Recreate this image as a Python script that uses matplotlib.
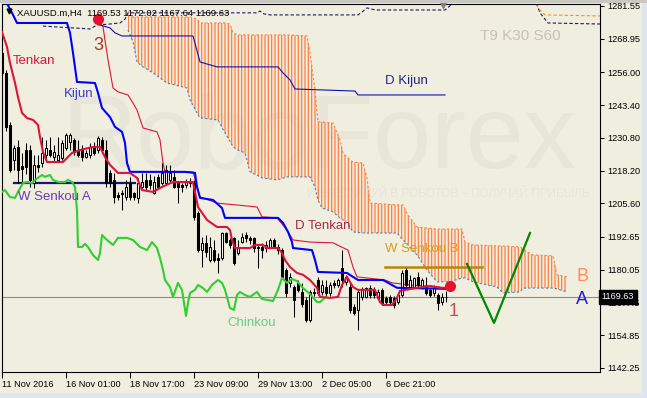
import numpy as np
import matplotlib
matplotlib.use('Agg')
import matplotlib.pyplot as plt
import matplotlib.transforms as mtransforms
from matplotlib.patches import Rectangle

plt.rcParams['font.family'] = ['Liberation Sans', 'DejaVu Sans']
plt.rcParams['hatch.linewidth'] = 0.9

# H4 candles, one per bar index
opens = [1263.3, 1255.6, 1235.8, 1222.3, 1227.4, 1219.8, 1226.0, 1226.1, 1213.3, 1220.5,
         1221.0, 1224.2, 1226.1, 1223.6, 1222.3, 1223.0, 1226.8, 1229.3, 1230.0, 1226.1,
         1226.1, 1223.6, 1224.2, 1227.4, 1226.1, 1230.0, 1226.1, 1217.2, 1214.6, 1208.8,
         1209.5, 1208.2, 1213.3, 1209.5, 1207.5, 1212.0, 1214.6, 1214.6, 1209.5, 1215.9,
         1213.3, 1213.3, 1214.6, 1215.9, 1213.3, 1212.7, 1212.7, 1213.9, 1213.3, 1201.8,
         1187.6, 1190.2, 1183.8, 1187.6, 1184.4, 1184.4, 1194.0, 1191.5, 1192.1, 1186.4,
         1190.9, 1193.4, 1192.1, 1192.1, 1188.9, 1188.9, 1188.3, 1188.9, 1191.5, 1188.9,
         1187.6, 1180.0, 1174.8, 1173.5, 1175.0, 1171.5, 1168.4, 1160.7, 1171.6, 1176.1,
         1171.6, 1173.5, 1171.0, 1174.8, 1174.2, 1180.6, 1175.5, 1173.5, 1165.9, 1164.6,
         1169.7, 1169.7, 1172.9, 1172.3, 1169.0, 1172.3, 1169.0, 1169.7, 1169.0, 1167.8,
         1170.3, 1180.0, 1173.5, 1173.5, 1177.4, 1173.5, 1173.5, 1172.3, 1171.0, 1170.3,
         1167.8, 1169.53]
highs = [1268.5, 1257.0, 1237.0, 1228.0, 1230.0, 1224.9, 1229.0, 1228.0, 1224.2, 1224.2,
         1231.3, 1230.0, 1231.3, 1228.0, 1231.3, 1230.0, 1232.5, 1232.8, 1230.6, 1230.0,
         1228.0, 1226.1, 1229.0, 1229.3, 1231.5, 1231.0, 1230.0, 1218.4, 1217.2, 1210.1,
         1210.7, 1214.6, 1215.9, 1210.1, 1215.2, 1217.2, 1217.2, 1217.0, 1216.0, 1217.0,
         1221.0, 1220.4, 1220.4, 1218.4, 1213.9, 1213.5, 1214.8, 1215.2, 1214.6, 1202.5,
         1192.8, 1193.4, 1192.8, 1191.5, 1186.4, 1194.7, 1194.7, 1192.1, 1192.8, 1191.5,
         1194.0, 1194.7, 1193.0, 1192.8, 1189.6, 1190.2, 1191.0, 1192.1, 1192.1, 1190.0,
         1188.3, 1180.6, 1178.7, 1174.2, 1176.1, 1174.8, 1169.7, 1172.3, 1173.0, 1177.4,
         1176.1, 1176.1, 1175.5, 1176.0, 1176.8, 1187.7, 1178.0, 1174.8, 1167.0, 1172.3,
         1173.5, 1173.5, 1174.0, 1173.5, 1172.5, 1173.0, 1170.0, 1170.5, 1170.0, 1171.0,
         1180.0, 1180.6, 1178.0, 1177.4, 1179.0, 1177.0, 1177.4, 1173.0, 1174.0, 1171.0,
         1171.0, 1172.02]
lows = [1254.5, 1233.5, 1217.8, 1218.4, 1213.3, 1213.3, 1217.0, 1212.0, 1211.4, 1217.8,
        1219.7, 1222.3, 1223.6, 1221.6, 1222.0, 1222.3, 1226.1, 1226.1, 1224.2, 1223.6,
        1222.0, 1223.0, 1223.0, 1224.2, 1224.9, 1225.0, 1212.0, 1212.0, 1205.6, 1206.9,
        1203.0, 1206.9, 1206.9, 1206.9, 1205.6, 1211.4, 1210.7, 1211.0, 1209.0, 1211.0,
        1212.7, 1212.7, 1213.9, 1211.4, 1205.6, 1210.0, 1211.5, 1212.0, 1199.2, 1187.0,
        1181.2, 1185.1, 1183.2, 1183.2, 1178.7, 1183.8, 1190.2, 1188.3, 1181.9, 1185.7,
        1190.2, 1190.9, 1190.0, 1187.0, 1180.6, 1184.4, 1187.0, 1188.3, 1188.3, 1186.0,
        1176.7, 1169.7, 1173.5, 1162.0, 1171.6, 1165.8, 1160.0, 1160.0, 1170.0, 1170.3,
        1170.3, 1169.7, 1170.0, 1173.0, 1173.5, 1173.5, 1174.0, 1163.3, 1162.6, 1156.9,
        1168.4, 1169.0, 1169.0, 1169.0, 1168.4, 1166.5, 1167.0, 1167.0, 1165.2, 1167.0,
        1169.7, 1173.5, 1173.0, 1172.9, 1173.0, 1172.5, 1170.3, 1169.5, 1170.0, 1164.6,
        1166.5, 1167.64]
closes = [1255.6, 1235.1, 1218.4, 1226.8, 1218.4, 1219.0, 1219.7, 1214.6, 1220.4, 1219.7,
          1224.9, 1226.8, 1224.2, 1225.5, 1224.2, 1228.7, 1231.9, 1231.9, 1225.5, 1224.2,
          1223.6, 1224.9, 1227.4, 1224.9, 1230.6, 1226.1, 1213.3, 1213.3, 1208.2, 1208.2,
          1209.0, 1212.0, 1208.2, 1208.2, 1213.3, 1214.0, 1212.0, 1212.7, 1213.9, 1212.0,
          1217.2, 1218.4, 1217.2, 1212.0, 1212.0, 1212.0, 1213.9, 1213.3, 1200.5, 1187.6,
          1190.2, 1187.0, 1188.9, 1183.8, 1183.8, 1194.0, 1190.9, 1189.6, 1182.5, 1188.9,
          1192.8, 1192.1, 1191.5, 1188.3, 1188.3, 1187.6, 1189.6, 1191.5, 1188.9, 1187.6,
          1177.4, 1171.0, 1177.4, 1168.4, 1172.2, 1167.0, 1160.7, 1171.6, 1171.0, 1171.0,
          1174.2, 1171.0, 1174.2, 1174.2, 1176.1, 1176.1, 1177.4, 1164.6, 1163.3, 1171.6,
          1172.3, 1172.9, 1170.3, 1170.3, 1171.6, 1167.1, 1167.8, 1167.8, 1166.5, 1170.3,
          1178.7, 1174.2, 1176.1, 1176.8, 1174.2, 1176.1, 1171.0, 1170.3, 1172.9, 1167.1,
          1169.7, 1169.63]

# Tenkan-sen (H4)
tenkan_x = [0, 1.25, 2, 3.25, 4, 5, 6.25, 7.75, 9, 9.5, 10.25, 11.25, 15.25, 17.5, 19.5,
            22.75, 24.5, 25.75, 27, 29, 32, 33.75, 35, 37.75, 40, 42.75, 47.75, 49, 51.25,
            53.75, 56.25, 57, 57.5, 58.25, 62, 63.25, 65.25, 66.25, 69, 70, 70.75, 72,
            73.75, 75.25, 77, 78.75, 79.5, 82, 84, 85, 86.25, 87.75, 89, 93.25, 94.5,
            95.25, 97.5, 98.75, 99.5, 103.75, 107, 109.5, 111.5]
tenkan_y = [1271.5, 1265.8, 1259.6, 1251.9, 1246.5, 1240.4, 1238.4, 1237.7, 1235.8, 1231.1,
            1225.4, 1221.5, 1221.5, 1225.0, 1226.1, 1227.3, 1227.3, 1223.4, 1220.4, 1217.3,
            1217.3, 1215.4, 1210.7, 1210.0, 1211.9, 1213.8, 1213.8, 1204.2, 1199.2, 1196.5,
            1196.5, 1195.3, 1191.5, 1188.4, 1188.4, 1189.6, 1189.6, 1188.4, 1188.4, 1186.5,
            1183.8, 1181.1, 1178.8, 1178.1, 1176.1, 1173.1, 1169.6, 1169.2, 1169.6, 1174.2,
            1177.3, 1173.4, 1172.3, 1172.3, 1167.6, 1166.5, 1166.5, 1169.2, 1171.9, 1173.1,
            1173.8, 1173.1, 1173.1]

# Kijun-sen (H4)
kijun_x = [0, 0.75, 2.5, 3.75, 16.25, 17, 17.75, 18.75, 23.25, 24, 25, 27, 28.25, 30, 30.75,
           31.25, 32, 45.75, 48.25, 48.75, 49.5, 52.75, 55, 55.75, 69, 70.25, 71.5, 72.5,
           72.75, 77.5, 78.25, 79, 86.25, 87.75, 89, 95.25, 98.75, 111]
kijun_y = [1286.0, 1283.9, 1278.9, 1275.0, 1275.0, 1271.2, 1263.5, 1252.3, 1251.9, 1248.1,
           1242.3, 1238.8, 1235.0, 1233.1, 1228.8, 1221.1, 1217.7, 1217.7, 1217.3, 1211.9,
           1207.7, 1206.9, 1203.8, 1200.0, 1200.0, 1198.1, 1194.6, 1190.7, 1188.4, 1187.6,
           1183.8, 1179.2, 1178.8, 1177.3, 1176.1, 1176.1, 1173.1, 1172.7]

# Chikou span
chinkou_x = [0, 0.75, 2, 3.25, 4, 5.25, 6.25, 7.5, 8.25, 9, 10, 10.75, 12, 12.75, 14, 15.75,
             16.5, 17.5, 18.25, 18.75, 19, 20, 20.75, 21.5, 22.75, 24, 24.5, 25, 26.25,
             27.75, 29, 31.25, 32.75, 34.5, 36.25, 37.5, 38.75, 39.5, 40.25, 40.75, 42,
             42.75, 44, 45, 46, 46.5, 47, 48.25, 49, 50.25, 51.25, 52.5, 54, 55, 55.75, 57,
             58, 58.75, 59.5, 60.75, 62, 63.75, 65, 66.5, 67.75, 69, 70, 71.25, 72.5, 73.75,
             75.25, 77, 78.75, 79.5, 81]
chinkou_y = [1210.0, 1210.7, 1208.0, 1207.7, 1210.0, 1213.4, 1213.8, 1213.4, 1214.6, 1215.4,
             1216.5, 1215.8, 1216.5, 1214.6, 1213.8, 1213.8, 1214.6, 1213.8, 1211.9, 1203.0,
             1188.8, 1188.8, 1190.0, 1188.8, 1185.7, 1183.8, 1186.5, 1193.4, 1191.5, 1189.6,
             1192.3, 1192.3, 1191.5, 1188.8, 1187.6, 1190.7, 1188.4, 1184.6, 1180.0, 1176.1,
             1173.4, 1169.6, 1175.0, 1172.3, 1162.3, 1167.3, 1171.1, 1172.3, 1174.2, 1173.0,
             1171.5, 1174.2, 1176.1, 1175.0, 1172.3, 1165.3, 1164.6, 1170.3, 1171.5, 1170.3,
             1169.6, 1171.5, 1168.8, 1168.4, 1168.0, 1172.3, 1176.9, 1175.0, 1176.5, 1175.7,
             1173.0, 1170.7, 1167.6, 1167.6, 1169.63]

# Kumo (Senkou span A / B)
cloud_x = [31.5, 32.75, 33.75, 35.25, 37.75, 41.25, 46.25, 47, 48.75, 49.5, 54, 55.75, 57,
           57.75, 59, 60.75, 62, 65, 68.75, 71.25, 76.25, 77, 78.25, 79, 80, 82.75, 84.5,
           85.25, 86.25, 87.75, 90.25, 91.25, 92, 98.75, 100.25, 101.5, 103.75, 106.25,
           108.75, 112, 115, 115.75, 117.75, 123.75, 125.25, 129.5, 130.25, 132.75, 137.75,
           138.75, 141.25]
senkou_b = [1278.1, 1277.3, 1277.3, 1277.3, 1277.3, 1277.3, 1277.3, 1277.3, 1276.5, 1275.0,
            1275.0, 1275.0, 1274.6, 1271.2, 1270.4, 1270.4, 1270.4, 1270.4, 1270.4, 1270.4,
            1270.0, 1263.5, 1249.2, 1236.9, 1236.9, 1236.5, 1230.0, 1225.0, 1223.4, 1221.5,
            1221.1, 1215.4, 1205.7, 1205.0, 1205.0, 1201.1, 1196.5, 1196.1, 1195.7, 1195.7,
            1195.7, 1190.7, 1189.6, 1189.2, 1189.2, 1188.8, 1188.0, 1185.7, 1185.4, 1178.1,
            1177.3]
senkou_a = [1272.3, 1267.7, 1260.0, 1258.1, 1255.8, 1251.9, 1250.0, 1245.4, 1240.4, 1238.5,
            1237.7, 1232.7, 1229.5, 1227.3, 1226.1, 1225.0, 1217.7, 1215.4, 1214.6, 1215.8,
            1215.8, 1215.8, 1211.9, 1206.9, 1203.8, 1202.3, 1200.0, 1199.2, 1198.1, 1194.6,
            1194.2, 1194.2, 1194.2, 1194.2, 1191.5, 1189.6, 1185.7, 1180.0, 1175.4, 1175.4,
            1176.9, 1176.9, 1175.4, 1173.4, 1171.1, 1171.5, 1173.0, 1173.0, 1173.0, 1172.7,
            1171.5]

# daily Tenkan / Kijun
d_tenkan_x = [24, 25.25, 26.5, 27.75, 29, 31.5, 32.75, 33.75, 35.25, 38.75, 39.5, 40.25,
              40.75, 47.75, 49.5, 53.75, 63.75, 65, 68.75, 71.25, 72.75, 77, 82.75, 86.5,
              87.75, 88.75, 95.75, 97.5, 102, 109.5]
d_tenkan_y = [1276.2, 1273.5, 1260.8, 1250.0, 1248.5, 1247.3, 1244.2, 1241.5, 1234.6, 1233.1,
              1230.0, 1221.1, 1217.7, 1217.7, 1208.1, 1205.7, 1204.2, 1200.4, 1200.0, 1195.3,
              1191.5, 1190.7, 1190.4, 1187.6, 1181.1, 1177.3, 1176.1, 1175.0, 1174.2, 1173.4]
d_kijun_x = [24.5, 27, 28.25, 30, 47.75, 49.5, 53.75, 69, 70.25, 72, 73.25, 88.25, 89, 110.75]
d_kijun_y = [1274.2, 1273.1, 1271.2, 1270.0, 1270.0, 1260.0, 1258.1, 1258.1, 1255.8, 1253.1,
             1249.6, 1248.8, 1247.3, 1247.3]

# weekly spans (dashed lines near the top)
w_dash_x = [10.25, 22, 23.75, 27, 29.5, 30.75, 31.5, 63.75, 64.5, 65.5, 67, 89, 90, 91.25,
            93.25, 110.75, 112, 113.25, 118, 130, 133.25, 133.75, 134.5, 136.5, 149.5]
w_dash_y = [1273.8, 1272.7, 1274.2, 1274.6, 1275.0, 1276.5, 1278.9, 1278.9, 1279.6, 1278.5,
            1278.1, 1278.1, 1279.2, 1280.8, 1280.0, 1280.0, 1281.6, 1283.9, 1290.0, 1290.0,
            1283.1, 1282.0, 1278.9, 1275.0, 1274.6]
w_dash2_x = [133.0, 133.5, 134.5, 135.75, 149.5]
w_dash2_y = [1286.0, 1282.3, 1280.0, 1278.1, 1277.7]

wsa_x = [3.0, 33.25]
wsa_y = [1213.3, 1213.3]
wsb_x = [95.75, 120.0]
wsb_y = [1181.0, 1181.0]

forecast_x = [116.25, 123, 132]
forecast_y = [1182.3, 1159.6, 1194.2]

dots_x = [24, 112]
dots_y = [1276.5, 1173.8]

last_price = 1169.63
ytick_vals = [1281.55, 1268.95, 1256.00, 1243.40, 1230.80, 1218.20, 1205.60, 1192.65,
              1180.05, 1167.45, 1154.85, 1142.25]
xtick_pos = [0, 16, 32, 48, 64, 80, 96]
xtick_labels = ['11 Nov 2016', '16 Nov 01:00', '18 Nov 17:00', '23 Nov 09:00',
                '29 Nov 13:00', '2 Dec 05:00', '6 Dec 21:00']

BG = '#F0EEDF'

fig = plt.figure(figsize=(6.47, 3.98), dpi=100)
fig.patch.set_facecolor(BG)
fig.patches.append(Rectangle((0, 0), 1, 5 / 398, transform=fig.transFigure,
                             facecolor='#DDE5EE', edgecolor='none'))
fig.patches.append(Rectangle((642 / 647, 0), 5 / 647, 1, transform=fig.transFigure,
                             facecolor='#DDE5EE', edgecolor='none'))
fig.patches.append(Rectangle((0, 395 / 398), 1, 3 / 398, transform=fig.transFigure,
                             facecolor='#C8C8C0', edgecolor='none'))

ax = fig.add_axes([1.5 / 647, 26 / 398, 598.5 / 647, 368 / 398])
ax.set_facecolor(BG)
ax.set_xlim(-0.125, 149.5)
ax.set_ylim(1140.7, 1282.3)

# watermark
ax.text(0.101, 0.557, 'RoboForex', transform=ax.transAxes, fontsize=75,
        color='#E7E6D9', ha='left', va='baseline', zorder=0)
ax.text(0.983, 0.4755, 'ИНВЕСТИРУЙ В РОБОТОВ – ПОЛУЧАЙ ПРИБЫЛЬ', transform=ax.transAxes,
        fontsize=8.5, color='#E7E6D9', ha='right', va='baseline', zorder=0)

# cloud
ax.fill_between(cloud_x, senkou_a, senkou_b, facecolor='none', edgecolor='#FF7F45',
                hatch='|||||', linewidth=0, zorder=1)
ax.plot(cloud_x, senkou_b, color='#FF7F45', lw=0.8, ls=(0, (2, 2)), zorder=1.2)
ax.plot(cloud_x, senkou_a, color='#4682B4', lw=0.8, ls=(0, (2, 2)), zorder=1.2)

ax.axhline(last_price, color='#8C8C8C', lw=0.8, zorder=1.5)

# daily / weekly levels
ax.plot(w_dash_x, w_dash_y, color='#191970', lw=0.8, ls=(0, (3, 2)), zorder=2)
ax.plot(w_dash2_x, w_dash2_y, color='#E6A000', lw=0.8, ls=(0, (3, 2)), zorder=2)
ax.plot(d_tenkan_x, d_tenkan_y, color='#DC143C', lw=0.8, zorder=2)
ax.plot(d_kijun_x, d_kijun_y, color='#1010B0', lw=0.8, zorder=2)
ax.plot(wsa_x, wsa_y, color='#191970', lw=1.6, zorder=2)
ax.plot(wsb_x, wsb_y, color='#B8860B', lw=1.8, zorder=2)

# candles
x = np.arange(len(opens))
o = np.array(opens)
h = np.array(highs)
l = np.array(lows)
c = np.array(closes)
up = c >= o
ax.vlines(x, l, h, color='black', lw=0.75, zorder=3)
ax.bar(x[up], (c - o)[up], bottom=o[up], width=0.55, color='white',
       edgecolor='black', lw=0.75, zorder=3.1)
ax.bar(x[~up], (c - o)[~up], bottom=o[~up], width=0.55, color='black',
       edgecolor='black', lw=0.75, zorder=3.1)

# ichimoku lines
ax.plot(chinkou_x, chinkou_y, color='#32CD32', lw=1.5, zorder=4)
ax.plot(kijun_x, kijun_y, color='#0000FF', lw=1.5, zorder=4)
ax.plot(tenkan_x, tenkan_y, color='#DC143C', lw=1.5, zorder=4.1)
ax.plot(forecast_x, forecast_y, color='#008800', lw=1.6, zorder=4)
ax.plot(dots_x, dots_y, 'o', color='#E8102F', ms=7, zorder=5)

# labels
lab = dict(fontsize=9.5, ha='left', va='center', zorder=6)
ax.text(2.75, 1260.4, 'Tenkan', color='#DC143C', **lab)
ax.text(15.5, 1247.7, 'Kijun', color='#3A3AD8', **lab)
ax.text(4.0, 1208.0, 'W Senkou A', color='#6A3BAF', **lab)
ax.text(73.25, 1196.9, 'D Tenkan', color='#A8284A', **lab)
ax.text(95.75, 1252.7, 'D Kijun', color='#25257F', **lab)
ax.text(56.25, 1159.6, 'Chinkou', color='#66CC88', **lab)
ax.text(95.75, 1188.0, 'W Senkou B', color='#D4A017', **lab)
ax.text(119.5, 1270.0, 'T9 K30 S60', color='#C8C2B4', fontsize=11, ha='left',
        va='center', zorder=6)
ax.text(24, 1266.2, '3', color='#A0402A', fontsize=13, ha='center', va='center', zorder=6)
ax.text(113, 1163.8, '1', color='#C0504D', fontsize=13, ha='center', va='center', zorder=6)
ax.text(145, 1177.6, 'B', color='#FF8C5A', fontsize=13, ha='center', va='center', zorder=6)
ax.text(145, 1168.5, 'A', color='#1A1AE6', fontsize=13, ha='center', va='center', zorder=6)

ax.text(0.026, 0.9755, 'XAUUSD.m,H4  1169.53 1172.02 1167.64 1169.63',
        transform=ax.transAxes, fontsize=6.8, ha='left', va='center', zorder=6)
ax.plot([0.0125], [0.982], 'v', color='black', ms=3.5, transform=ax.transAxes,
        clip_on=False, zorder=6)
ax.plot([110.25], [1281.9], 'v', color='#808080', ms=5, clip_on=False, zorder=6)

# axes
for s in ax.spines.values():
    s.set_color('black')
    s.set_linewidth(0.8)

ax.yaxis.tick_right()
ax.set_yticks(ytick_vals)
ax.set_yticklabels(['%.2f' % v for v in ytick_vals])
ax.tick_params(axis='y', direction='out', length=3, width=0.75, pad=2.5, labelsize=6.6)
ax.set_xticks(xtick_pos)
ax.set_xticklabels(xtick_labels)
ax.tick_params(axis='x', direction='out', length=4, width=0.75, pad=1.5, labelsize=6.6)
for lbl in ax.get_xticklabels():
    lbl.set_horizontalalignment('left')

trans = mtransforms.blended_transform_factory(ax.transAxes, ax.transData)
ax.text(1.003, last_price, '1169.63', transform=trans, ha='left', va='center',
        color='white', fontsize=6.6, clip_on=False, zorder=10,
        bbox=dict(boxstyle='square,pad=0.3', fc='black', ec='black'))

fig.savefig('out.png', dpi=100, facecolor=BG)
